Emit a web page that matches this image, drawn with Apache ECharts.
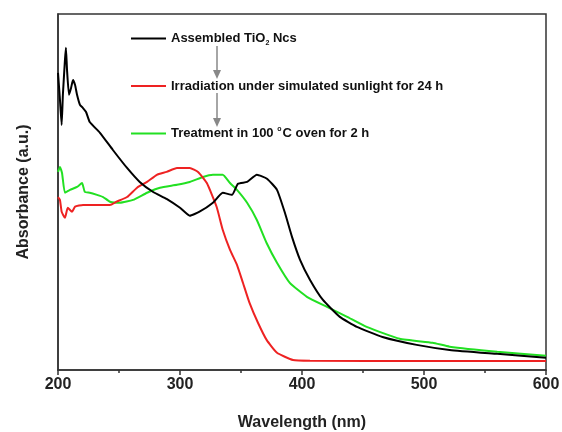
<!DOCTYPE html>
<html>
<head>
<meta charset="utf-8">
<script src="https://cdn.jsdelivr.net/npm/echarts@6/dist/echarts.min.js"></script>
<style>
  html, body { margin: 0; padding: 0; background: #fff; }
  #chart { width: 562px; height: 432px; }
</style>
</head>
<body>
<div id="chart"></div>
<script>
// wavelength (nm) and absorbance (a.u., 0-100 scale)
const blackNm = [200, 201.6, 203, 204, 205.7, 206.5, 207.4, 209, 210.7, 212.3, 214, 215.6, 218, 220.5, 223, 226, 234.4, 245, 256.6, 267, 278, 289, 300, 308, 316, 327, 335, 342.6, 347.5, 355, 363, 371.3, 379.5, 386, 391.8, 398.4, 406.6, 417, 431, 445, 466, 494, 521, 560, 600];
const blackAbs = [83.3, 75.8, 68.8, 77.2, 86.9, 90.3, 84.1, 77.2, 79.1, 81.3, 79.9, 77.2, 74.4, 73.5, 72.4, 69.6, 66.6, 61.8, 56.8, 52.9, 50.1, 48.2, 45.7, 43.5, 44.6, 47.1, 49.9, 49.3, 52.4, 52.9, 54.9, 53.8, 50.7, 44.3, 37.6, 31.2, 25.6, 20.1, 15.3, 12.5, 9.7, 7.5, 6.1, 5.0, 3.9];

const redNm = [200, 201.6, 203, 205.7, 208, 211.5, 214, 220.5, 234.4, 242.6, 248, 256.6, 264.8, 273, 281, 289, 297.5, 308, 314.8, 322, 330, 335, 341, 346.7, 351.6, 357, 364, 371, 379.5, 392.6, 406.6, 500, 600];
const redAbs = [48.7, 47.9, 44.6, 42.9, 45.7, 44.6, 46.0, 46.5, 46.5, 46.5, 47.4, 48.7, 51.3, 52.9, 54.9, 55.7, 56.8, 56.8, 55.7, 52.6, 46.0, 39.6, 34.0, 29.8, 24.8, 19.2, 13.6, 8.9, 5.3, 3.3, 3.1, 3.0, 3.0];

const greenNm = [200, 201.6, 203.3, 205.7, 209.8, 215.6, 219.7, 222, 226, 232, 237, 242.6, 250.8, 261.5, 273, 283.6, 297.5, 308, 318.9, 327, 335, 341, 346.7, 355, 363, 371, 379.5, 390, 404, 420.5, 437, 453, 480, 507, 521, 560, 600];
const greenAbs = [55.7, 57.1, 55.4, 49.9, 50.7, 51.5, 52.6, 50.1, 49.9, 49.3, 48.7, 47.4, 47.1, 47.9, 49.9, 51.3, 52.1, 52.9, 54.3, 54.9, 54.9, 52.6, 50.7, 47.1, 42.3, 35.9, 30.4, 24.8, 20.9, 18.1, 15.3, 12.5, 9.2, 8.1, 7.0, 5.6, 4.5];

const seriesNames = ["Assembled TiO2 Ncs", "Irradiation under simulated sunlight for 24 h", "Treatment in 100 oC oven for 2 h"];
const seriesColors = ["#000000", "#ee2222", "#22e022"];
const xTicks = [200, 300, 400, 500, 600];

const font = "Arial, 'Liberation Sans', sans-serif";

function pairs(xs, ys) {
  return xs.map((x, i) => [x, ys[i]]);
}

// rich text for the legend (subscript 2, superscript degree)
function legendLabel(name) {
  if (name === seriesNames[0]) {
    return "{a|Assembled TiO}{sub|2}{a| Ncs}";
  }
  if (name === seriesNames[2]) {
    return "{a|Treatment in 100 }{sup|o}{a|C oven for 2 h}";
  }
  return "{a|" + name + "}";
}

const chart = echarts.init(document.getElementById("chart"));

chart.setOption({
  animation: false,
  backgroundColor: "#fff",
  grid: {
    left: 58,
    right: 16,
    top: 14,
    bottom: 62,
    outerBoundsMode: "none",
    show: true,
    borderColor: "#333",
    borderWidth: 1.5,
  },
  legend: {
    orient: "vertical",
    left: 126,
    top: 27,
    icon: "rect",
    itemWidth: 35,
    itemHeight: 2,
    itemGap: 33,
    data: seriesNames,
    formatter: legendLabel,
    textStyle: {
      rich: {
        a: { fontFamily: font, fontWeight: "bold", fontSize: 13, color: "#111" },
        sub: { fontFamily: font, fontWeight: "bold", fontSize: 7, color: "#111", padding: [9, 0, 0, 0] },
        sup: { fontFamily: font, fontWeight: "bold", fontSize: 7, color: "#111", padding: [0, 1, 9, 0] },
      },
    },
  },
  xAxis: {
    type: "value",
    min: 200,
    max: 600,
    interval: 100,
    name: "Wavelength (nm)",
    nameLocation: "middle",
    nameGap: 45,
    nameTextStyle: { fontFamily: font, fontWeight: "bold", fontSize: 16, color: "#222" },
    axisLine: { lineStyle: { color: "#333", width: 1.5 } },
    axisTick: { length: 5, lineStyle: { color: "#333", width: 1.5 } },
    minorTick: { show: true, splitNumber: 2, length: 3, lineStyle: { color: "#333", width: 1.5 } },
    axisLabel: {
      margin: 7,
      fontFamily: font,
      fontWeight: "bold",
      fontSize: 16,
      color: "#222",
      formatter: (v) => (xTicks.includes(v) ? String(v) : ""),
    },
    splitLine: { show: false },
  },
  yAxis: {
    type: "value",
    min: 0.5,
    max: 99.7,
    name: "Absorbance (a.u.)",
    nameLocation: "middle",
    nameGap: 26,
    nameTextStyle: { fontFamily: font, fontWeight: "bold", fontSize: 16, color: "#222" },
    axisLine: { lineStyle: { color: "#333", width: 1.5 } },
    axisTick: { show: false },
    axisLabel: { show: false },
    splitLine: { show: false },
  },
  series: [
    { name: seriesNames[0], data: pairs(blackNm, blackAbs) },
    { name: seriesNames[1], data: pairs(redNm, redAbs) },
    { name: seriesNames[2], data: pairs(greenNm, greenAbs) },
  ].map((s, i) => ({
    ...s,
    type: "line",
    symbol: "none",
    smooth: 0.15,
    z: 3 - i,
    lineStyle: { color: seriesColors[i], width: 2 },
    itemStyle: { color: seriesColors[i] },
  })),
  // gray arrows between the legend entries
  graphic: [
    { type: "line", shape: { x1: 217, y1: 46, x2: 217, y2: 72 }, style: { stroke: "#888", lineWidth: 1.5 } },
    { type: "polygon", shape: { points: [[213, 70], [221, 70], [217, 79]] }, style: { fill: "#888" } },
    { type: "line", shape: { x1: 217, y1: 93, x2: 217, y2: 120 }, style: { stroke: "#888", lineWidth: 1.5 } },
    { type: "polygon", shape: { points: [[213, 118], [221, 118], [217, 127]] }, style: { fill: "#888" } },
  ],
});
</script>
</body>
</html>
